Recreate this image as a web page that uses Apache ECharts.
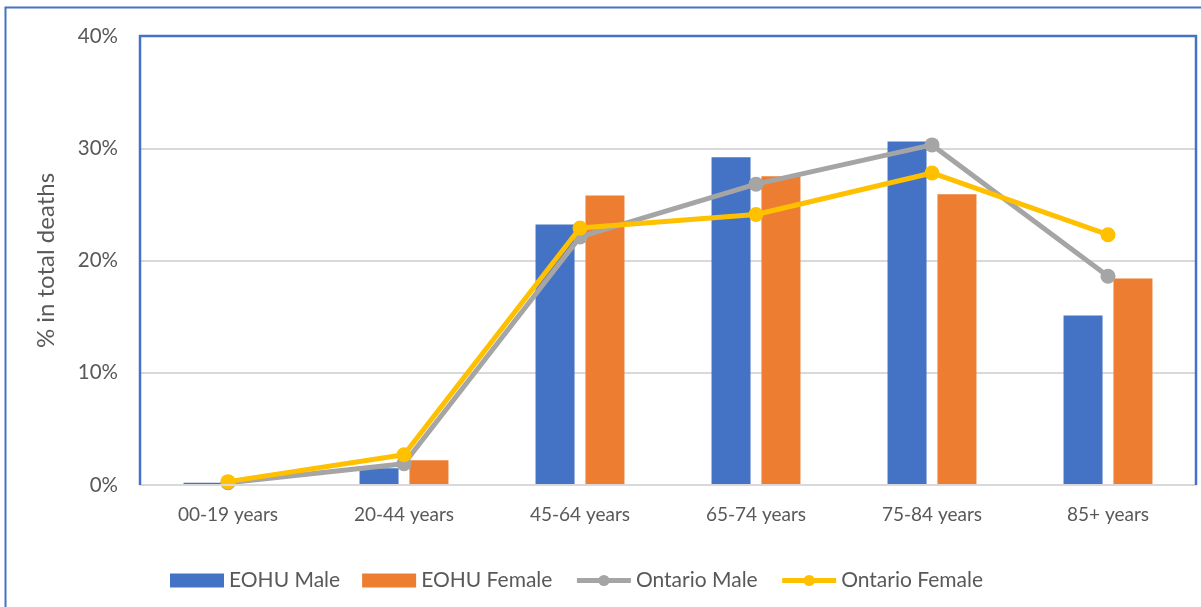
<!DOCTYPE html>
<html><head><meta charset="utf-8">
<script src="https://cdn.jsdelivr.net/npm/echarts@6/dist/echarts.min.js"></script>
<style>html,body{margin:0;padding:0;background:#fff}#c{width:1201px;height:607px}</style>
</head><body><div id="c"></div>
<script>
const categories = ['00-19 years','20-44 years','45-64 years','65-74 years','75-84 years','85+ years'];
const eohuMale = [0.2, 1.5, 23.2, 29.2, 30.6, 15.1];
const eohuFemale = [0.0, 2.2, 25.8, 27.5, 25.9, 18.4];
const ontarioMale = [0.2, 1.9, 22.1, 26.8, 30.3, 18.6];
const ontarioFemale = [0.3, 2.7, 22.9, 24.1, 27.8, 22.3];
const yTicks = [0, 10, 20, 30, 40];

const FONT = 'Lato';
const TXT = '#595959';
const chart = echarts.init(document.getElementById('c'));
chart.setOption({
  animation: false,
  textStyle: { fontFamily: FONT },
  graphic: [
    { type: 'rect', shape: { x: 5.5, y: 7.5, width: 1300, height: 700 }, style: { fill: 'none', stroke: '#4472C4', lineWidth: 2 }, z: 100 },
    { type: 'polyline', shape: { points: [[140, 485], [140, 36], [1196, 36], [1196, 485]] }, style: { fill: 'none', stroke: '#4472C4', lineWidth: 2.5 }, z: 100 }
  ],
  grid: { left: 140, right: 5, top: 36, bottom: 122 },
  legend: {
    top: 565, left: 165, itemGap: 22, itemWidth: 54, itemHeight: 14,
    textStyle: { color: TXT, fontSize: 21, fontFamily: FONT },
    data: [
      { name: 'EOHU Male', icon: 'rect' },
      { name: 'EOHU Female', icon: 'rect' },
      { name: 'Ontario Male', lineStyle: { width: 5 } },
      { name: 'Ontario Female', lineStyle: { width: 5 } }
    ]
  },
  xAxis: {
    type: 'category', data: categories,
    axisLine: { show: true, lineStyle: { color: '#D9D9D9', width: 2 } },
    axisTick: { show: false },
    axisLabel: { color: TXT, fontSize: 19, fontFamily: FONT, margin: 20 },
    z: 10
  },
  yAxis: {
    type: 'value', min: 0, max: 40, interval: 10,
    name: '% in total deaths', nameLocation: 'middle', nameGap: 82,
    nameTextStyle: { color: TXT, fontSize: 24, fontFamily: FONT },
    axisLabel: { color: TXT, fontSize: 20.5, fontFamily: FONT, margin: 22, formatter: v => yTicks.includes(v) ? v + '%' : '' },
    axisLine: { show: false }, axisTick: { show: false },
    splitLine: { lineStyle: { color: '#D9D9D9', width: 2 } }
  },
  series: [
    { name: 'EOHU Male', type: 'bar', data: eohuMale, itemStyle: { color: '#4472C4' }, barWidth: 39, barGap: '28%' },
    { name: 'EOHU Female', type: 'bar', data: eohuFemale, itemStyle: { color: '#ED7D31' }, barWidth: 39, barGap: '28%' },
    { name: 'Ontario Male', type: 'line', data: ontarioMale, symbol: 'circle', symbolSize: 15,
      lineStyle: { color: '#A5A5A5', width: 5 }, itemStyle: { color: '#A5A5A5' }, z: 5 },
    { name: 'Ontario Female', type: 'line', data: ontarioFemale, symbol: 'circle', symbolSize: 15,
      lineStyle: { color: '#FFC000', width: 5 }, itemStyle: { color: '#FFC000' }, z: 6 }
  ]
});
</script></body></html>
